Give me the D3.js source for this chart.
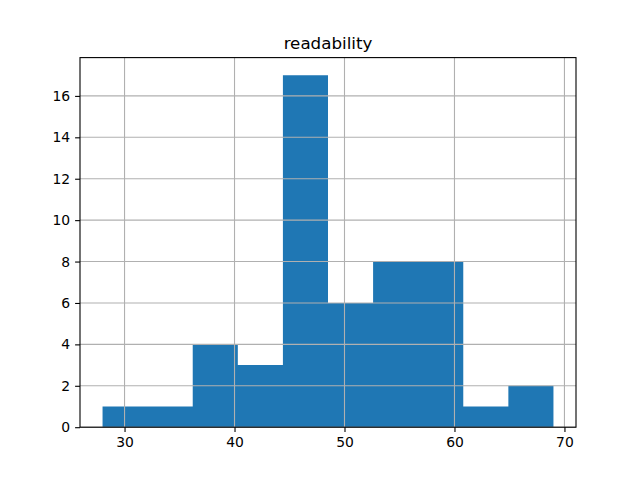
<!DOCTYPE html>
<html>
<head>
<meta charset="utf-8">
<script src="https://cdn.jsdelivr.net/npm/d3@7"></script>
<style>
  body { margin: 0; background: #fff; }
  svg { display: block; font-family: "DejaVu Sans", sans-serif; }
</style>
</head>
<body>
<div id="chart"></div>
<script>
// histogram bins (edges) and counts
var binEdges = [28.0, 32.1, 36.2, 40.3, 44.4, 48.5, 52.6, 56.7, 60.8, 64.9, 69.0];
var counts = [1, 1, 4, 3, 17, 6, 8, 8, 1, 2];
var xTicks = [30, 40, 50, 60, 70];
var yTicks = [0, 2, 4, 6, 8, 10, 12, 14, 16];
var title = "readability";

var W = 640, H = 480;
var margin = {top: 57.6, right: 64, bottom: 52.8, left: 80};
var w = W - margin.left - margin.right,
    h = H - margin.top - margin.bottom;

var svg = d3.select("#chart").append("svg")
    .attr("width", W)
    .attr("height", H);

var g = svg.append("g")
    .attr("transform", "translate(" + margin.left + "," + margin.top + ")");

// matplotlib-style 5% padding
var xMin = binEdges[0], xMax = binEdges[binEdges.length - 1];
var pad = (xMax - xMin) * 0.05;
var x = d3.scaleLinear().domain([xMin - pad, xMax + pad]).range([0, w]);
var y = d3.scaleLinear().domain([0, d3.max(counts) * 1.05]).range([h, 0]);

var bins = counts.map(function(c, i) { return {x0: binEdges[i], x1: binEdges[i + 1], n: c}; });

// bars as one path so there are no seams between neighbours
var barPath = d3.path();
bins.forEach(function(d) {
  barPath.rect(x(d.x0), y(d.n), x(d.x1) - x(d.x0), y(0) - y(d.n));
});
g.append("path")
    .attr("class", "bars")
    .attr("d", barPath.toString())
    .style("fill", "#1f77b4");

// grid drawn above the bars
var grid = g.append("g").attr("class", "grid");
grid.selectAll(".vgrid")
    .data(xTicks)
    .enter().append("line")
    .attr("x1", function(d) { return x(d); })
    .attr("x2", function(d) { return x(d); })
    .attr("y1", 0).attr("y2", h)
    .style("stroke", "#b0b0b0")
    .style("stroke-width", 1.1);
grid.selectAll(".hgrid")
    .data(yTicks)
    .enter().append("line")
    .attr("y1", function(d) { return y(d); })
    .attr("y2", function(d) { return y(d); })
    .attr("x1", 0).attr("x2", w)
    .style("stroke", "#b0b0b0")
    .style("stroke-width", 1.1);

// axes
var xAxis = g.append("g")
    .attr("transform", "translate(0," + h + ")")
    .call(d3.axisBottom(x).tickValues(xTicks).tickSize(4.9).tickPadding(4.9).tickFormat(d3.format("d")));
var yAxis = g.append("g")
    .call(d3.axisLeft(y).tickValues(yTicks).tickSize(4.9).tickPadding(4.9).tickFormat(d3.format("d")));

[xAxis, yAxis].forEach(function(a) {
  a.select(".domain").remove();
  a.selectAll(".tick line").style("stroke", "#000").style("stroke-width", 1.1);
  a.selectAll(".tick text")
    .style("font-family", "DejaVu Sans")
    .style("font-size", "13.9px")
    .style("fill", "#000");
});

// spines
g.append("rect")
    .attr("x", 0).attr("y", 0)
    .attr("width", w).attr("height", h)
    .style("fill", "none")
    .style("stroke", "#000")
    .style("stroke-width", 1.1);

// title
svg.append("text")
    .attr("x", margin.left + w / 2)
    .attr("y", margin.top - 8.3)
    .attr("text-anchor", "middle")
    .style("font-size", "16.7px")
    .style("fill", "#000")
    .text(title);
</script>
</body>
</html>
